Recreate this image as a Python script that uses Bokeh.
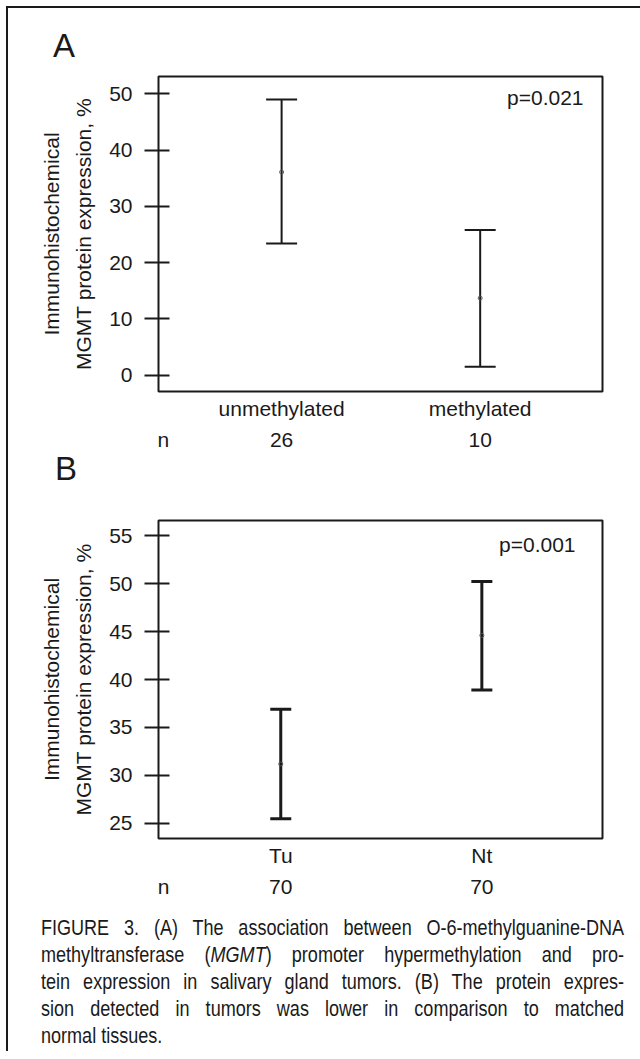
from bokeh.plotting import figure
from bokeh.models import (Range1d, FixedTicker, LinearAxis, ColumnDataSource,
                          Whisker, TeeHead, Label, Div)
from bokeh.layouts import column
from bokeh.embed import file_html
from bokeh.resources import INLINE

# ---------------- data ----------------
groups_A = ["unmethylated", "methylated"]
mean_A = [36.1, 13.7]
lower_A = [23.4, 1.5]
upper_A = [49.0, 25.8]
n_A = [26, 10]
p_A = "p=0.021"
yticks_A = [0, 10, 20, 30, 40, 50]

groups_B = ["Tu", "Nt"]
mean_B = [31.2, 44.6]
lower_B = [25.5, 38.9]
upper_B = [36.9, 50.2]
n_B = [70, 70]
p_B = "p=0.001"
yticks_B = [25, 30, 35, 40, 45, 50, 55]

y_label = "Immunohistochemical\nMGMT protein expression, %"

caption_lines = [
    "FIGURE 3. (A) The association between O-6-methylguanine-DNA",
    "methyltransferase (<i>MGMT</i>) promoter hypermethylation and pro-",
    "tein expression in salivary gland tumors. (B) The protein expres-",
    "sion detected in tumors was lower in comparison to matched",
    "normal tissues.",
]

INK = "#1a1a1a"
FONT = "Liberation Sans"
W = 632


def panel(groups, mean, lower, upper, n, ptext, yticks, xr, yr,
          height, mbt, mbb, mbr, bw, cap, p_off):
    p = figure(width=W, height=height, x_range=Range1d(*xr), y_range=Range1d(*yr),
               output_backend="svg", toolbar_location=None, title=None,
               min_border_left=150, min_border_right=mbr,
               min_border_top=mbt, min_border_bottom=mbb)
    p.grid.visible = False
    p.outline_line_color = INK
    p.outline_line_width = 2
    p.background_fill_color = "white"
    p.border_fill_color = "white"

    pos = list(range(1, len(groups) + 1))
    src = ColumnDataSource(dict(x=pos, mean=mean, lower=lower, upper=upper))
    wh = Whisker(source=src, base="x", upper="upper", lower="lower",
                 dimension="height", line_color=INK, line_width=bw,
                 upper_head=TeeHead(size=cap, line_width=bw, line_color=INK),
                 lower_head=TeeHead(size=cap, line_width=bw, line_color=INK))
    p.add_layout(wh)
    p.scatter("x", "mean", source=src, size=4, marker="circle",
              fill_color=None, line_color="#555555", line_width=1)

    ya = p.yaxis[0]
    ya.ticker = FixedTicker(ticks=yticks)
    ya.axis_line_color = None
    ya.major_tick_in = 11
    ya.major_tick_out = 14
    ya.major_tick_line_width = 2
    ya.major_tick_line_color = INK
    ya.minor_tick_line_color = None
    ya.major_label_text_font = FONT
    ya.major_label_text_font_size = "21px"
    ya.major_label_text_color = INK
    ya.major_label_standoff = 12
    ya.axis_label = y_label
    ya.axis_label_text_font = FONT
    ya.axis_label_text_font_size = "21px"
    ya.axis_label_text_font_style = "normal"
    ya.axis_label_text_color = INK
    ya.axis_label_text_line_height = 1.38
    ya.axis_label_standoff = 11

    xa = p.xaxis[0]
    xa.ticker = FixedTicker(ticks=pos)
    xa.major_label_overrides = {k: g for k, g in zip(pos, groups)}
    xa.axis_line_color = None
    xa.major_tick_in = 0
    xa.major_tick_out = 0
    xa.minor_tick_line_color = None
    xa.major_label_text_font = FONT
    xa.major_label_text_font_size = "21px"
    xa.major_label_text_color = INK
    xa.major_label_standoff = 5

    n_x = xr[0] + 0.025
    na = LinearAxis(ticker=FixedTicker(ticks=[n_x] + pos))
    ov = {n_x: "n"}
    ov.update({k: str(v) for k, v in zip(pos, n)})
    na.major_label_overrides = ov
    na.axis_line_color = None
    na.major_tick_in = 0
    na.major_tick_out = 0
    na.minor_tick_line_color = None
    na.major_label_text_font = FONT
    na.major_label_text_font_size = "21px"
    na.major_label_text_color = INK
    na.major_label_standoff = 5
    p.add_layout(na, "below")

    p.add_layout(Label(x=xr[1], y=yr[1], x_offset=p_off[0], y_offset=p_off[1],
                       text=ptext, text_font=FONT, text_font_size="21px",
                       text_color=INK, text_align="right", text_baseline="middle"))
    return p


def letter_div(letter, height, left, pad_top, line_h):
    return Div(text=(f'<div style="margin:0;padding:0;padding-top:{pad_top}px;margin-left:{left}px;'
                     'font-family:\'Liberation Sans\',Arial,sans-serif;font-size:33px;'
                     f'line-height:{line_h}px;color:#1a1a1a;">{letter}</div>'),
               width=W, height=height, margin=0)


divA = letter_div("A", 60, 45, 21, 33)
pA = panel(groups_A, mean_A, lower_A, upper_A, n_A, p_A, yticks_A,
           (0.38, 2.616), (-2.9, 53.1), 387, 8, 64, 38, 2, 31, (-19, -21))

divB = letter_div("B", 35, 47, 0, 27)
pB = panel(groups_B, mean_B, lower_B, upper_B, n_B, p_B, yticks_B,
           (0.392, 2.6), (23.43, 56.57), 410, 30, 62, 33, 3, 21, (-27, -24))

SCALE = 0.82
inner_w = round(583 / SCALE)
html_lines = []
for i, ln in enumerate(caption_lines):
    last = i == len(caption_lines) - 1
    align = "text-align:left;text-align-last:left;" if last else \
        "text-align:justify;text-align-last:justify;"
    html_lines.append(
        f'<div style="width:{inner_w}px;height:27.1px;white-space:nowrap;{align}'
        f'transform:scaleX({SCALE});transform-origin:0 0;">{ln}</div>')
cap_html = ('<div style="margin:0;margin-left:33px;padding-top:14px;'
            'font-family:\'Liberation Sans\',Arial,sans-serif;'
            'font-size:22px;line-height:27.1px;color:#1a1a1a;">'
            + "".join(html_lines) + '</div>')
div = Div(text=cap_html, width=W, height=151, margin=0)

layout = column(divA, pA, divB, pB, div, spacing=0,
                styles={"border-top": "2px solid #1a1a1a",
                        "border-left": "2px solid #1a1a1a",
                        "margin-left": "6px", "margin-top": "6px"})

open("out.html", "w").write(file_html(layout, INLINE))
